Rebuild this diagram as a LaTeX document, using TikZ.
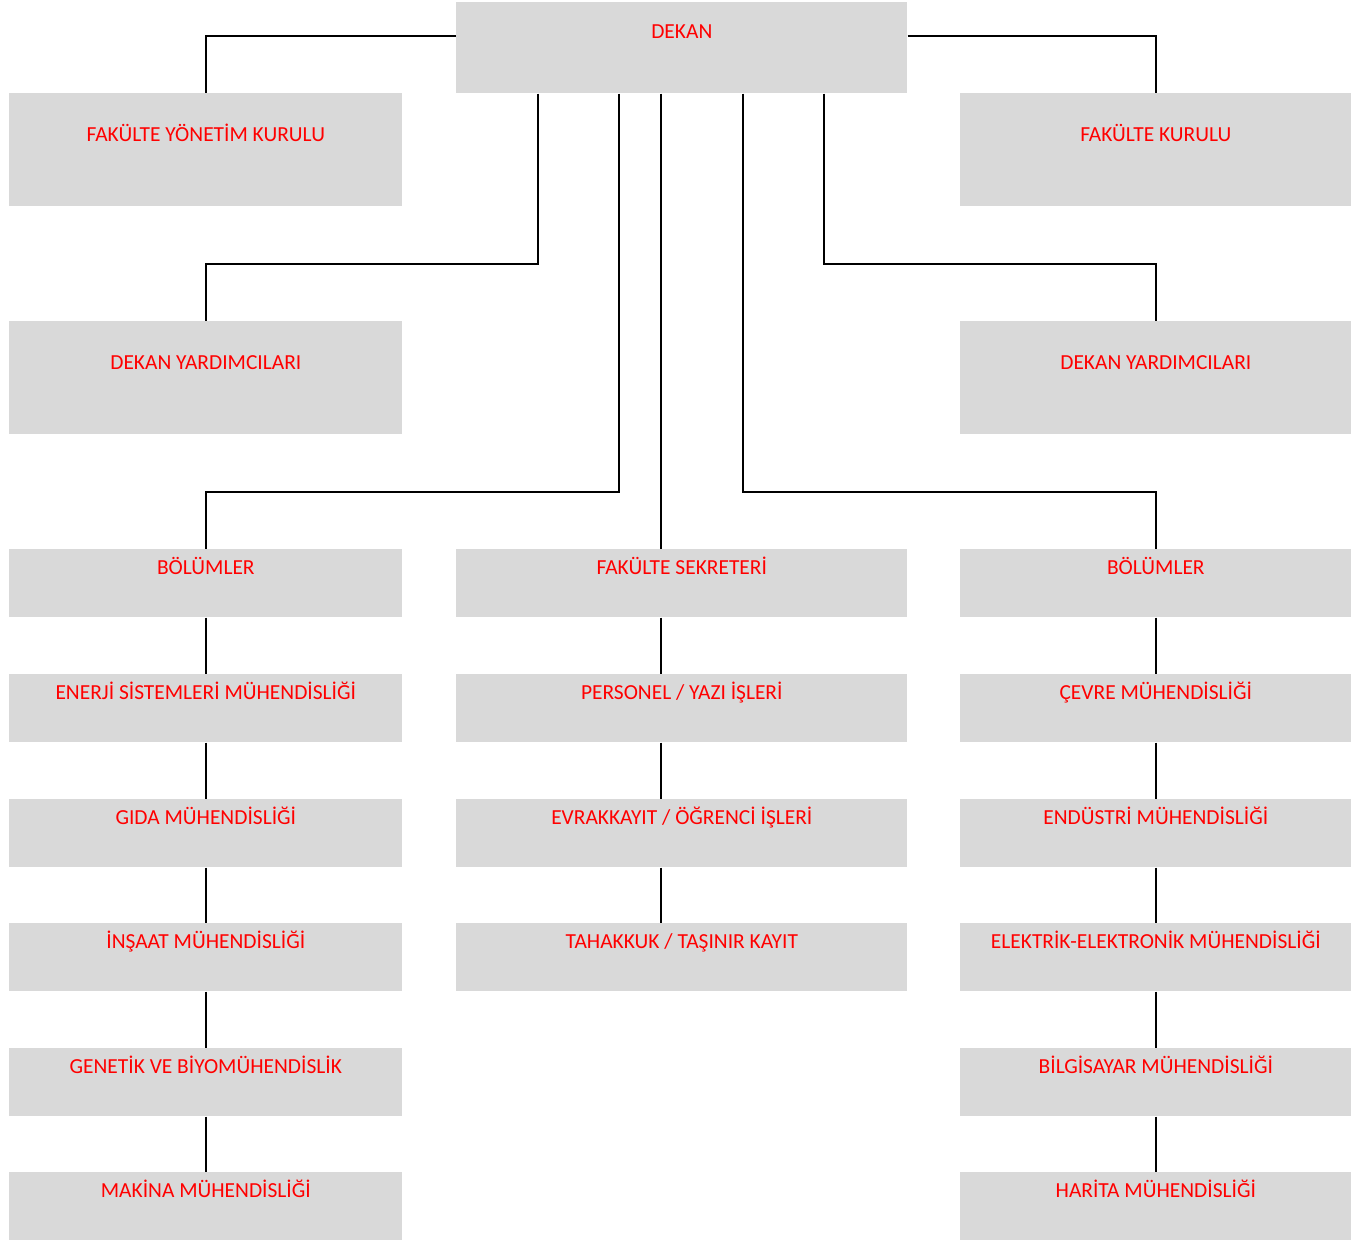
\documentclass[tikz,border=0pt]{standalone}
\usepackage{fontspec}
\setmainfont{Carlito}
\usetikzlibrary{calc}
\definecolor{boxgray}{RGB}{217,217,217}
\definecolor{txtred}{RGB}{255,0,0}

\tikzset{
    box/.style={fill=boxgray, text=txtred, inner sep=0pt, anchor=north west},
    topbox/.style={box, minimum width=9.02cm, text height=0.73cm, text depth=1.09cm},
    bigbox/.style={box, minimum width=7.84cm, text height=0.97cm, text depth=1.29cm},
    smallbox/.style={box, minimum width=#1, text height=0.51cm, text depth=0.85cm},
    smallbox/.default=7.86cm,
    link/.style={draw=black, line width=1.2pt}
}

\begin{document}
\begin{tikzpicture}[x=0.02cm, y=-0.02cm, font=\fontsize{12.2}{14}\selectfont]
    \useasboundingbox (0,0) rectangle (1368,1240);

    % top level
    \node[topbox] (dekan) at (456,2) {DEKAN};
    \node[bigbox, minimum width=7.86cm] (fyk) at (9,93) {FAKÜLTE YÖNETİM KURULU};
    \node[bigbox, minimum width=7.82cm] (fk) at (960,93) {FAKÜLTE KURULU};
    \node[bigbox, minimum width=7.86cm] (dyl) at (9,321) {DEKAN YARDIMCILARI};
    \node[bigbox, minimum width=7.82cm] (dyr) at (960,321) {DEKAN YARDIMCILARI};

    % left column
    \node[smallbox] (boll) at (9,549) {BÖLÜMLER};
    \node[smallbox] (ener) at (9,674) {ENERJİ SİSTEMLERİ MÜHENDİSLİĞİ};
    \node[smallbox] (gida) at (9,799) {GIDA MÜHENDİSLİĞİ};
    \node[smallbox] (insa) at (9,923) {İNŞAAT MÜHENDİSLİĞİ};
    \node[smallbox] (gene) at (9,1048) {GENETİK VE BİYOMÜHENDİSLİK};
    \node[smallbox] (maki) at (9,1172) {MAKİNA MÜHENDİSLİĞİ};

    % middle column
    \node[smallbox=9.02cm] (fs) at (456,549) {FAKÜLTE SEKRETERİ};
    \node[smallbox=9.02cm] (pers) at (456,674) {PERSONEL / YAZI İŞLERİ};
    \node[smallbox=9.02cm] (evra) at (456,799) {EVRAKKAYIT / ÖĞRENCİ İŞLERİ};
    \node[smallbox=9.02cm] (taha) at (456,923) {TAHAKKUK / TAŞINIR KAYIT};

    % right column
    \node[smallbox=7.82cm] (bolr) at (960,549) {BÖLÜMLER};
    \node[smallbox=7.82cm] (cevr) at (960,674) {ÇEVRE MÜHENDİSLİĞİ};
    \node[smallbox=7.82cm] (endu) at (960,799) {ENDÜSTRİ MÜHENDİSLİĞİ};
    \node[smallbox=7.82cm] (elek) at (960,923) {ELEKTRİK-ELEKTRONİK MÜHENDİSLİĞİ};
    \node[smallbox=7.82cm] (bilg) at (960,1048) {BİLGİSAYAR MÜHENDİSLİĞİ};
    \node[smallbox=7.82cm] (hari) at (960,1172) {HARİTA MÜHENDİSLİĞİ};

    % links from the dean
    \draw[link] ([yshift=0.23cm]dekan.west) -| (fyk.north);
    \draw[link] ([yshift=0.23cm]dekan.east) -| (fk.north);
    \draw[link] ([xshift=-2.87cm]dekan.south) |- ([yshift=1.14cm]dyl.north) -- (dyl.north);
    \draw[link] ([xshift=2.85cm]dekan.south) |- ([yshift=1.14cm]dyr.north) -- (dyr.north);
    \draw[link] ([xshift=-1.25cm]dekan.south) |- ([yshift=1.14cm]boll.north) -- (boll.north);
    \draw[link] ([xshift=1.23cm]dekan.south) |- ([yshift=1.14cm]bolr.north) -- (bolr.north);
    \draw[link] ([xshift=-0.41cm]dekan.south) -- ([xshift=-0.41cm]fs.north);

    % column chains
    \draw[link] (boll) -- (ener) (ener) -- (gida) (gida) -- (insa) (insa) -- (gene) (gene) -- (maki);
    \draw[link] ([xshift=-0.41cm]fs.south) -- ([xshift=-0.41cm]pers.north);
    \draw[link] ([xshift=-0.41cm]pers.south) -- ([xshift=-0.41cm]evra.north);
    \draw[link] ([xshift=-0.41cm]evra.south) -- ([xshift=-0.41cm]taha.north);
    \draw[link] (bolr) -- (cevr) (cevr) -- (endu) (endu) -- (elek) (elek) -- (bilg) (bilg) -- (hari);
\end{tikzpicture}
\end{document}
